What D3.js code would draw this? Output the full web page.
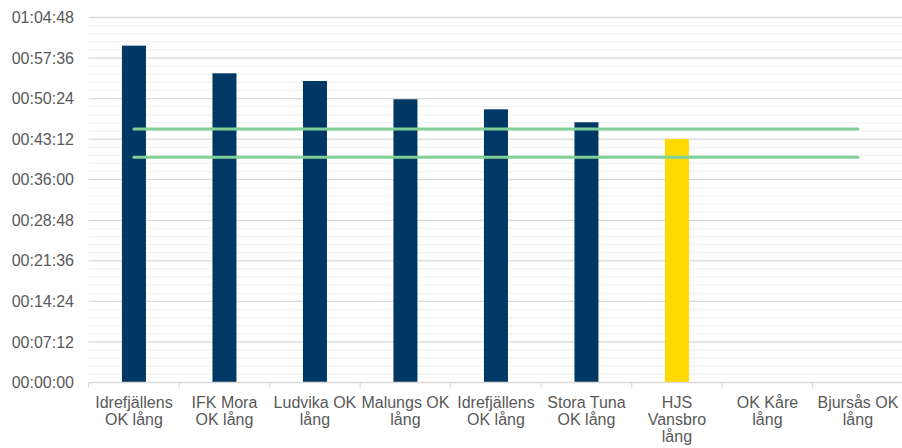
<!DOCTYPE html>
<html>
<head>
<meta charset="utf-8">
<script src="https://cdn.jsdelivr.net/npm/d3@7"></script>
<style>
  html, body { margin: 0; padding: 0; background: #fff; }
  svg { display: block; }
  text { font-family: "Liberation Sans", Arial, sans-serif; fill: #595959; }
</style>
</head>
<body>
<svg id="chart" width="902" height="448"></svg>
<script>
// ---- data ----
const categories = [
  "Idrefjällens OK lång",
  "IFK Mora OK lång",
  "Ludvika OK lång",
  "Malungs OK lång",
  "Idrefjällens OK lång",
  "Stora Tuna OK lång",
  "HJS Vansbro lång",
  "OK Kåre lång",
  "Bjursås OK lång"
];
// times in seconds (null = no bar)
const times = [3588, 3294, 3212, 3017, 2910, 2772, 2594, null, null];
const highlight = [false, false, false, false, false, false, true, false, false];
const upperLimit = [2700, 2700, 2700, 2700, 2700, 2700, 2700, 2700, 2700];
const lowerLimit = [2400, 2400, 2400, 2400, 2400, 2400, 2400, 2400, 2400];
const yTicks = [0, 432, 864, 1296, 1728, 2160, 2592, 3024, 3456, 3888];

// ---- layout ----
const svg = d3.select("#chart");
const mLeft = 88.7, mRight = 903.2, mTop = 17.5, mBottom = 382.5;

const x = d3.scaleBand().domain(d3.range(categories.length)).range([mLeft, mRight]).paddingInner(0).paddingOuter(0);
const y = d3.scaleLinear().domain([0, 3888]).range([mBottom, mTop]);

const fmt = s => {
  const h = Math.floor(s / 3600), m = Math.floor((s % 3600) / 60), sec = Math.round(s % 60);
  return [h, m, sec].map(v => String(v).padStart(2, "0")).join(":");
};

// minor gridlines
const minorTicks = d3.range(0, 45).map(i => i * 86.4).filter((d, i) => i % 5 !== 0);
svg.append("g").selectAll("line").data(minorTicks).join("line")
  .attr("x1", mLeft).attr("x2", 902)
  .attr("y1", d => y(d)).attr("y2", d => y(d))
  .attr("stroke", "#f2f2f2").attr("stroke-width", 1.3);

// major gridlines
svg.append("g").selectAll("line").data(yTicks.slice(1)).join("line")
  .attr("x1", mLeft).attr("x2", 902)
  .attr("y1", d => y(d)).attr("y2", d => y(d))
  .attr("stroke", "#d9d9d9").attr("stroke-width", 1.3);

// y axis labels
const yAxis = d3.axisLeft(y).tickValues(yTicks).tickFormat(fmt).tickSize(0).tickPadding(0);
const gy = svg.append("g").attr("transform", `translate(74,0)`).call(yAxis);
gy.select(".domain").remove();
gy.selectAll("text").attr("font-size", 16).attr("fill", "#595959")
  .attr("font-family", "'Liberation Sans', Arial, sans-serif");

// bars
const barW = 24;
const barData = times.map((t, i) => ({t, i})).filter(d => d.t != null);
svg.append("g").selectAll("rect").data(barData).join("rect")
  .attr("x", d => x(d.i) + x.bandwidth() / 2 - barW / 2)
  .attr("width", barW)
  .attr("y", d => y(d.t))
  .attr("height", d => y(0) - y(d.t))
  .attr("fill", d => highlight[d.i] ? "#ffda00" : "#003865");

// x axis
const xAxis = d3.axisBottom(x).tickSize(0).tickFormat("");
const gx = svg.append("g").attr("transform", `translate(0,${mBottom})`).call(xAxis);
gx.select(".domain").remove();
svg.append("line").attr("x1", mLeft).attr("x2", 902).attr("y1", mBottom).attr("y2", mBottom)
  .attr("stroke", "#d9d9d9").attr("stroke-width", 1.3);
svg.append("g").selectAll("line").data(d3.range(categories.length)).join("line")
  .attr("x1", d => x(d)).attr("x2", d => x(d))
  .attr("y1", mBottom).attr("y2", mBottom + 5)
  .attr("stroke", "#d9d9d9").attr("stroke-width", 1.3);

// category labels with wrapping
const labelG = svg.append("g");
categories.forEach((c, i) => {
  const cx = x(i) + x.bandwidth() / 2;
  const t = labelG.append("text").attr("x", cx).attr("y", 408)
    .attr("text-anchor", "middle").attr("font-size", 16).attr("fill", "#595959");
  const words = c.split(" ");
  let lines = [], cur = [];
  const probe = t.append("tspan");
  words.forEach(w => {
    const test = cur.concat([w]).join(" ");
    probe.text(test);
    if (cur.length && probe.node().getComputedTextLength() > 90) {
      lines.push(cur.join(" "));
      cur = [w];
    } else cur.push(w);
  });
  lines.push(cur.join(" "));
  probe.remove();
  lines.forEach((l, k) => {
    t.append("tspan").attr("x", cx).attr("y", 408 + k * 17).text(l);
  });
});

// limit lines
const line = d3.line().x((d, i) => x(i) + x.bandwidth() / 2).y(d => y(d));
[upperLimit, lowerLimit].forEach(arr => {
  svg.append("path").attr("d", line(arr)).attr("fill", "none")
    .attr("stroke", "#80cf97").attr("stroke-width", 3).attr("stroke-linecap", "round");
});
</script>
</body>
</html>
